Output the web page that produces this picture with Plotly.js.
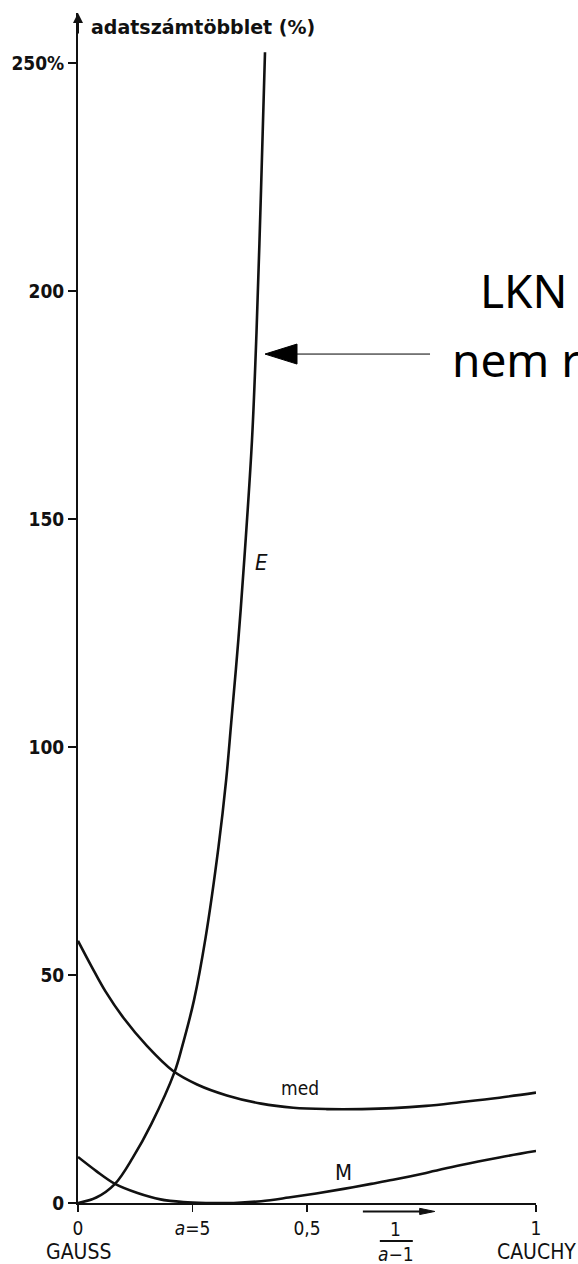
<!DOCTYPE html>
<html>
<head>
<meta charset="utf-8">
<script src="https://cdn.plot.ly/plotly-3.0.1.min.js"></script>
<style>html,body{margin:0;padding:0;background:#fff;}#chart{width:578px;height:1264px;}</style>
</head>
<body>
<div id="chart"></div>
<script>
// E curve (mean / least squares)
const xE = [0, 0.04, 0.0808, 0.12, 0.16, 0.2107, 0.2271, 0.2533, 0.2784, 0.3068, 0.3235, 0.3345, 0.3504, 0.3635, 0.3799, 0.3897, 0.3996, 0.4083];
const yE = [0, 1.2, 4.2, 10.0, 17.3, 28.7, 34.2, 44.5, 58.1, 78.1, 92.8, 105.3, 123.9, 141.7, 167.3, 190.8, 222.1, 252.4];
// med curve
const xMed = [0, 0.03, 0.06, 0.1, 0.15, 0.207, 0.26, 0.325, 0.4, 0.47, 0.543, 0.62, 0.688, 0.76, 0.834, 0.92, 1.0];
const yMed = [57.5, 51.8, 46.4, 40.5, 34.5, 29, 26, 23.6, 21.8, 20.9, 20.6, 20.6, 20.8, 21.3, 22.1, 23.1, 24.2];
// M curve
const xM = [0, 0.04, 0.0808, 0.13, 0.18, 0.23, 0.28, 0.34, 0.4, 0.46, 0.52, 0.58, 0.64, 0.688, 0.76, 0.834, 0.92, 1.0];
const yM = [10.1, 7.0, 4.2, 2.2, 0.8, 0.2, 0, 0, 0.4, 1.2, 2.1, 3.1, 4.2, 5.1, 6.6, 8.3, 10.0, 11.4];

const yTickVals = [0, 50, 100, 150, 200, 250];
const yTickText = ['0', '50', '100', '150', '200', '250%'];
const xTickVals = [0, 0.25, 0.5, 1];
const xTickText = ['0', '<i>a</i>=5', '0,5', '1'];

const ink = '#111';
const scanFont = 'DejaVu Sans Condensed, DejaVu Sans, sans-serif';
const lineStyle = {color: ink, width: 2.6, shape: 'spline', smoothing: 1};

const traces = [
  {x: xE, y: yE, mode: 'lines', line: lineStyle, name: 'E', hoverinfo: 'skip'},
  {x: xMed, y: yMed, mode: 'lines', line: lineStyle, name: 'med', hoverinfo: 'skip'},
  {x: xM, y: yM, mode: 'lines', line: lineStyle, name: 'M', hoverinfo: 'skip'}
];

const layout = {
  width: 578, height: 1264,
  margin: {l: 78, r: 42, t: 13, b: 61},
  paper_bgcolor: '#fff', plot_bgcolor: '#fff',
  showlegend: false,
  xaxis: {
    range: [0, 1], showgrid: false, zeroline: false,
    showline: true, linecolor: ink, linewidth: 2,
    ticks: 'outside', ticklen: 7, tickwidth: 1.5, tickcolor: ink,
    tickvals: xTickVals, ticktext: xTickText,
    tickfont: {family: scanFont, size: 19, color: ink}
  },
  yaxis: {
    range: [0, 261], showgrid: false, zeroline: false,
    showline: true, linecolor: ink, linewidth: 2,
    ticks: 'outside', ticklen: 8, tickwidth: 1.5, tickcolor: ink,
    tickvals: yTickVals, ticktext: yTickText,
    tickfont: {family: scanFont, size: 19, color: ink, weight: 'bold'}
  },
  annotations: [
    {xref: 'paper', yref: 'paper', x: 0.024, y: 0.988, xanchor: 'left', yanchor: 'middle',
     text: 'adatszámtöbblet (%)', showarrow: false,
     font: {family: 'DejaVu Sans, sans-serif', size: 19, color: ink, weight: 'bold'}},
    {xref: 'paper', yref: 'paper', x: 0, y: 1, ax: 0, ay: 22, text: '', showarrow: true,
     arrowhead: 2, arrowsize: 1, arrowwidth: 2, arrowcolor: ink, standoff: 0},
    {xref: 'x', yref: 'y', x: 0.4017, y: 140.4, text: '<i>E</i>', showarrow: false,
     xanchor: 'center', yanchor: 'middle',
     font: {family: scanFont, size: 22, color: ink}},
    {xref: 'x', yref: 'y', x: 0.485, y: 25.2, text: 'med', showarrow: false,
     xanchor: 'center', yanchor: 'middle',
     font: {family: scanFont, size: 19, color: ink}},
    {xref: 'x', yref: 'y', x: 0.579, y: 6.6, text: 'M', showarrow: false,
     xanchor: 'center', yanchor: 'middle',
     font: {family: scanFont, size: 22, color: ink}},
    {xref: 'paper', yref: 'paper', x: 0, y: -0.0412, text: 'GAUSS', showarrow: false,
     xanchor: 'center', yanchor: 'middle',
     font: {family: scanFont, size: 21, color: ink}},
    {xref: 'paper', yref: 'paper', x: 1, y: -0.0412, text: 'CAUCHY', showarrow: false,
     xanchor: 'center', yanchor: 'middle',
     font: {family: scanFont, size: 21, color: ink}},
    {xref: 'paper', yref: 'paper', x: 0.694, y: -0.0218, text: '1', showarrow: false,
     xanchor: 'center', yanchor: 'middle',
     font: {family: scanFont, size: 19, color: ink}},
    {xref: 'paper', yref: 'paper', x: 0.694, y: -0.0429, text: '<i>a</i>−1', showarrow: false,
     xanchor: 'center', yanchor: 'middle',
     font: {family: scanFont, size: 19, color: ink}},
    {xref: 'paper', yref: 'paper', x: 0.874, y: 0.767, xanchor: 'left', yanchor: 'middle',
     text: 'LKN', showarrow: false,
     font: {family: 'Noto Sans, sans-serif', size: 46, color: '#000'}},
    {xref: 'paper', yref: 'paper', x: 0.813, y: 0.709, xanchor: 'left', yanchor: 'middle',
     text: 'nem robusztus', showarrow: false,
     font: {family: 'Noto Sans, sans-serif', size: 46, color: '#000'}}
  ],
  shapes: [
    // fraction bar
    {type: 'line', xref: 'paper', yref: 'paper', x0: 0.659, x1: 0.731, y0: -0.0319, y1: -0.0319,
     line: {color: ink, width: 2}},
    // small x-direction arrow
    {type: 'line', xref: 'paper', yref: 'paper', x0: 0.622, x1: 0.76, y0: -0.0071, y1: -0.0071,
     line: {color: ink, width: 2}},
    {type: 'path', xref: 'paper', yref: 'paper',
     path: 'M0.779,-0.0071 L0.746,-0.0045 L0.746,-0.0097 Z',
     fillcolor: ink, line: {color: ink, width: 1}},
    // LKN pointer
    {type: 'line', xref: 'paper', yref: 'paper', x0: 0.478, x1: 0.7686, y0: 0.7134, y1: 0.7134,
     line: {color: '#000', width: 1}},
    {type: 'path', xref: 'paper', yref: 'paper',
     path: 'M0.4083,0.7134 L0.4782,0.7218 L0.4782,0.7050 Z',
     fillcolor: '#000', line: {color: '#000', width: 1}}
  ]
};

Plotly.newPlot('chart', traces, layout, {displayModeBar: false, staticPlot: true});
</script>
</body>
</html>
